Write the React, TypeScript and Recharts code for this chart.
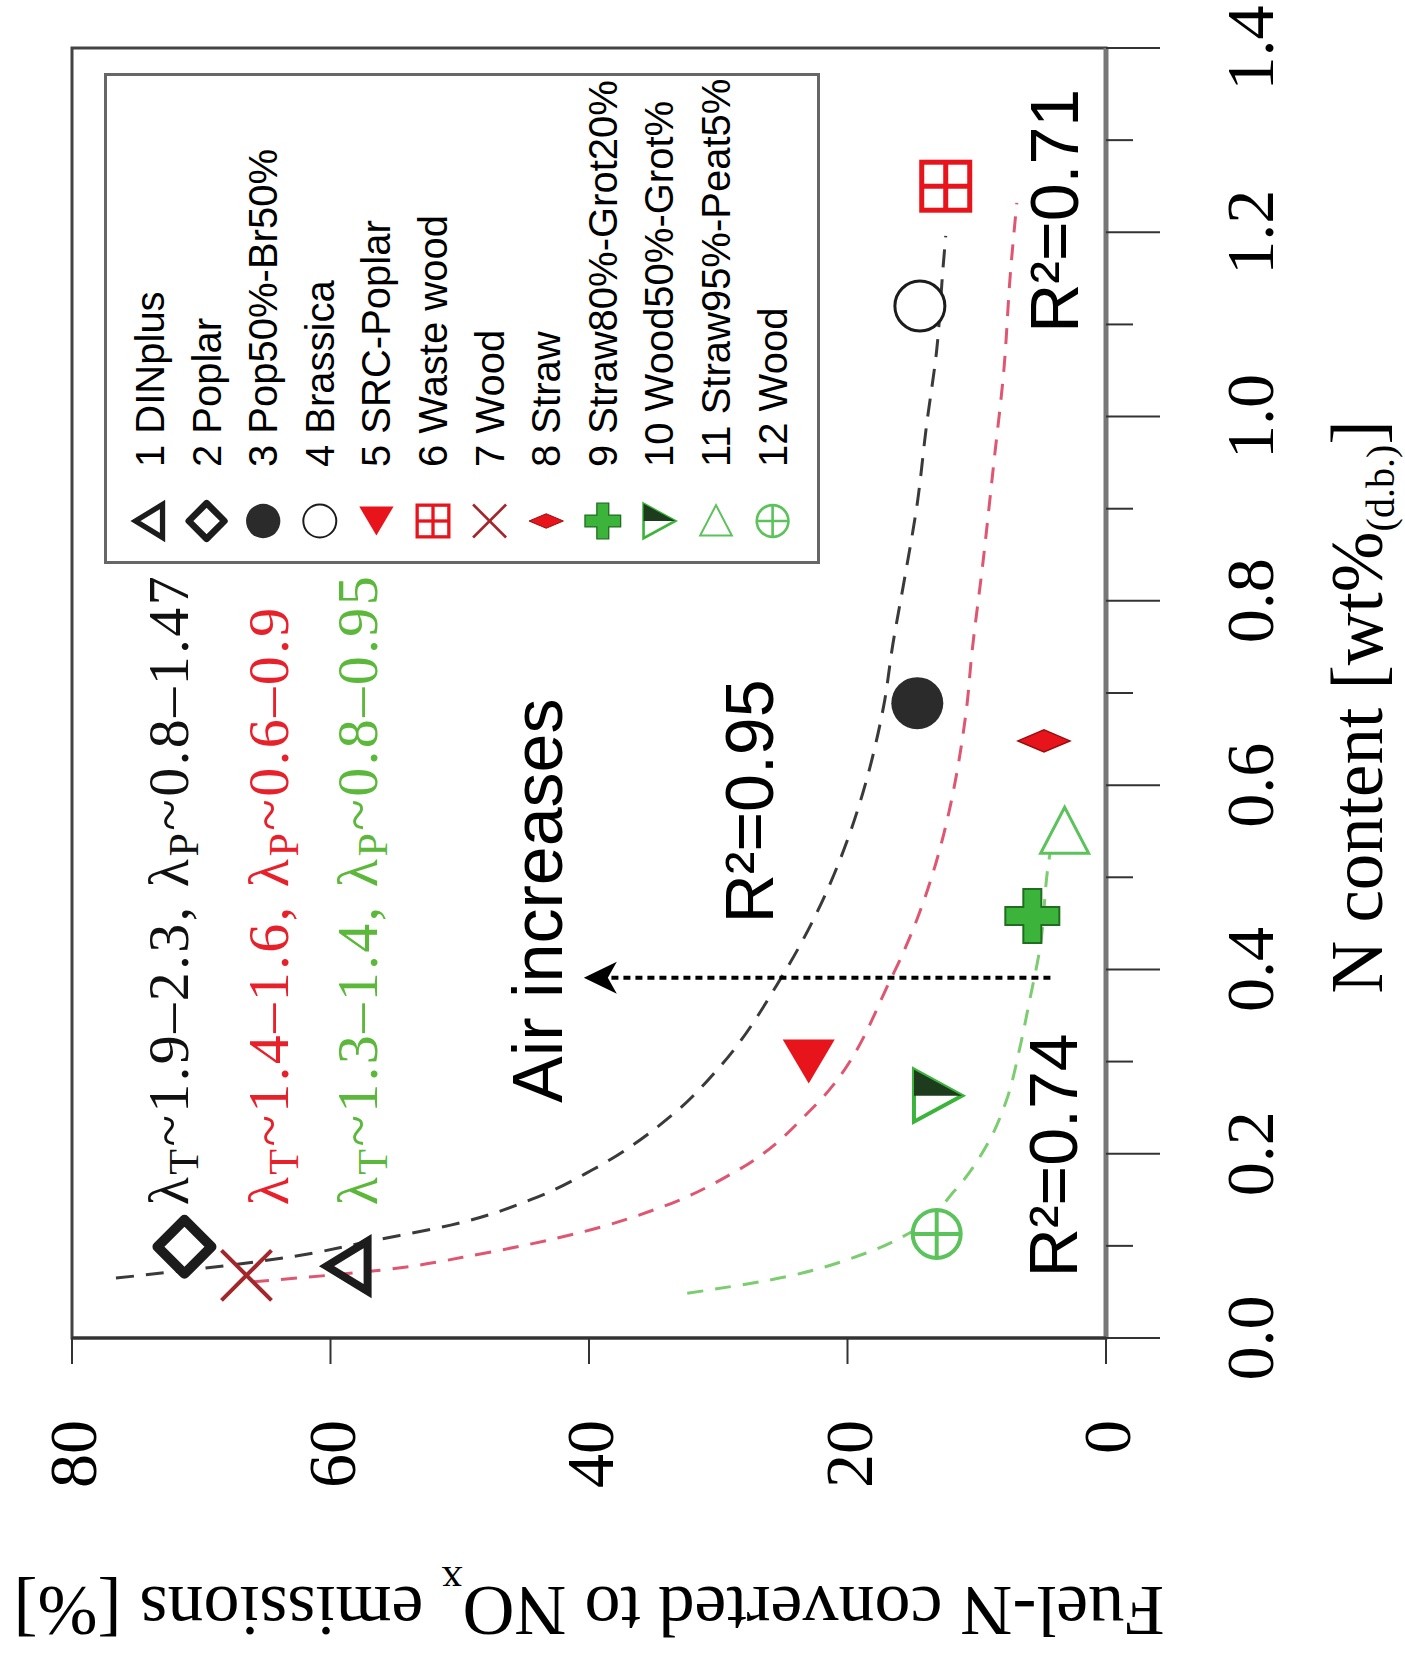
import React from "react";
import {
  ComposedChart,
  Line,
  Scatter,
  XAxis,
  YAxis,
  Legend,
  ReferenceArea,
  ReferenceDot,
  ReferenceLine,
} from "recharts";

// chart is laid out upright, then the whole block is turned a quarter turn
const W = 1655;
const H = 1405;

const SERIF = "'Liberation Serif', 'Times New Roman', serif";
const SANS = "'Liberation Sans', Arial, sans-serif";
const NARROW = "'Liberation Sans Narrow', 'Arial Narrow', 'Liberation Sans', sans-serif";

const RED = "#e8141c";
const DARK_RED = "#a3262a";
const GREEN = "#3cb43c";
const LIGHT_GREEN = "#5cc25c";
const INK = "#1c1c1c";

const SAMPLE_NAMES = [
  "1 DINplus",
  "2 Poplar",
  "3 Pop50%-Br50%",
  "4 Brassica",
  "5 SRC-Poplar",
  "6 Waste wood",
  "7 Wood",
  "8 Straw",
  "9 Straw80%-Grot20%",
  "10 Wood50%-Grot%",
  "11 Straw95%-Peat5%",
  "12 Wood",
];
const SAMPLE_SYMBOLS = [
  "openTriangle",
  "openDiamond",
  "dot",
  "ring",
  "leftTriangle",
  "boxGrid",
  "cross",
  "thinDiamond",
  "plus",
  "halfTriangle",
  "rightTriangle",
  "circlePlus",
];
// N content [wt% d.b.] and fuel-N converted to NOx [%]
const N_CONTENT = [0.078, 0.099, 0.689, 1.12, 0.3, 1.25, 0.068, 0.648, 0.458, 0.263, 0.55, 0.113];
const FUEL_N_TO_NOX = [58.6, 71.3, 14.6, 14.4, 23.0, 12.4, 66.5, 4.8, 5.7, 13.0, 3.2, 13.1];

// fitted trend curves, one per air-ratio group
const FIT_HIGH_AIR: [number, number][] = [
  [0.065, 76.6], [0.088, 63.1], [0.106, 56.6], [0.1225, 50.7], [0.153, 44.0],
  [0.182, 39.8], [0.244, 33.4], [0.294, 29.9], [0.394, 25.0], [0.686, 17.2],
  [0.752, 16.5], [0.823, 15.6], [0.906, 14.6], [0.989, 13.9], [1.072, 13.1],
  [1.163, 12.6], [1.196, 12.4],
];
const FIT_MID_AIR: [number, number][] = [
  [0.061, 66.0], [0.0737, 56.1], [0.0918, 48.2], [0.114, 40.8], [0.142, 34.4],
  [0.182, 28.5], [0.251, 22.6], [0.394, 16.5], [0.682, 10.8],
  [0.74, 10.4], [0.844, 9.5], [0.947, 8.7], [1.051, 7.9], [1.155, 7.4], [1.232, 6.9],
];
const FIT_LOW_AIR: [number, number][] = [
  [0.0485, 32.4], [0.063, 26.0], [0.092, 18.6], [0.114, 15.2], [0.16, 11.7],
  [0.215, 9.0], [0.258, 7.7], [0.316, 6.65], [0.367, 5.9], [0.424, 5.1],
  [0.51, 4.5], [0.529, 4.3],
];

const X_TICKS = [0, 0.1, 0.2, 0.3, 0.4, 0.5, 0.6, 0.7, 0.8, 0.9, 1.0, 1.1, 1.2, 1.3, 1.4];
const Y_TICKS = [0, 20, 40, 60, 80];

const LAMBDA_LINES = [
  { color: "#111", t: "1.9–2.3", p: "0.8–1.47", n: 0.144, y: 71.0 },
  { color: "#e8202a", t: "1.4–1.6", p: "0.6–0.9", n: 0.144, y: 63.3 },
  { color: "#5cb83a", t: "1.3–1.4", p: "0.8–0.95", n: 0.144, y: 56.4 },
];
const R2_NOTES = [
  { text: "R²=0.95", n: 0.45, y: 25.8 },
  { text: "R²=0.74", n: 0.066, y: 2.24 },
  { text: "R²=0.71", n: 1.091, y: 2.17 },
];

const toRows = (pts: [number, number][]) => pts.map(([n, y]) => ({ n, y }));

function Marker({ kind, cx, cy, s = 1 }: { kind: string; cx: number; cy: number; s?: number }) {
  const p = (pts: number[][]) => pts.map(([dx, dy]) => `${cx + dx * s},${cy + dy * s}`).join(" ");
  const d = (v: number) => v * s;
  switch (kind) {
    case "openTriangle":
      return <polygon points={p([[0, -22], [-25, 19], [25, 19]])} fill="none" stroke={INK} strokeWidth={d(8)} />;
    case "openDiamond":
      return (
        <polygon
          points={p([[0, -27], [27, 0], [0, 27], [-27, 0]])}
          fill="none"
          stroke={INK}
          strokeWidth={d(10)}
          strokeLinejoin="round"
        />
      );
    case "dot":
      return <circle cx={cx} cy={cy} r={d(26)} fill="#2b2b2b" />;
    case "ring":
      return <circle cx={cx} cy={cy} r={d(25)} fill="#fff" stroke={INK} strokeWidth={d(3)} />;
    case "leftTriangle":
      return <polygon points={p([[-22, 0], [22, -26], [22, 26]])} fill={RED} />;
    case "boxGrid":
      return (
        <g stroke={RED} strokeWidth={d(5)}>
          <rect x={cx - d(24)} y={cy - d(24)} width={d(48)} height={d(48)} fill="#fff" />
          <line x1={cx - d(24)} y1={cy} x2={cx + d(24)} y2={cy} />
          <line x1={cx} y1={cy - d(24)} x2={cx} y2={cy + d(24)} />
        </g>
      );
    case "cross":
      return (
        <g stroke={DARK_RED} strokeWidth={d(4)}>
          <line x1={cx - d(25)} y1={cy - d(25)} x2={cx + d(25)} y2={cy + d(25)} />
          <line x1={cx - d(25)} y1={cy + d(25)} x2={cx + d(25)} y2={cy - d(25)} />
        </g>
      );
    case "thinDiamond":
      return <polygon points={p([[0, -26], [11, 0], [0, 26], [-11, 0]])} fill={RED} stroke="#9a0d0d" strokeWidth={d(1.5)} />;
    case "plus": {
      const a = 9;
      const b = 27;
      return (
        <polygon
          points={p([[-a, -b], [a, -b], [a, -a], [b, -a], [b, a], [a, a], [a, b], [-a, b], [-a, a], [-b, a], [-b, -a], [-a, -a]])}
          fill={GREEN}
          stroke="#1f6e1f"
          strokeWidth={d(2)}
        />
      );
    }
    case "halfTriangle":
      return (
        <g>
          <polygon points={p([[-26, -24], [26, -24], [0, 24]])} fill="#fff" stroke={GREEN} strokeWidth={d(4)} />
          <polygon points={p([[0, -24], [26, -24], [0, 24]])} fill="#1d3b1d" />
        </g>
      );
    case "rightTriangle":
      return <polygon points={p([[-22, -24], [24, 0], [-22, 24]])} fill="#fff" stroke={LIGHT_GREEN} strokeWidth={d(3)} />;
    case "circlePlus":
      return (
        <g stroke={LIGHT_GREEN} strokeWidth={d(4)}>
          <circle cx={cx} cy={cy} r={d(24)} fill="#fff" />
          <line x1={cx - d(24)} y1={cy} x2={cx + d(24)} y2={cy} />
          <line x1={cx} y1={cy - d(24)} x2={cx} y2={cy + d(24)} />
        </g>
      );
    default:
      return null;
  }
}

function XTick(props: any) {
  const { x, y, payload } = props;
  const major = Math.round(payload.value * 10) % 2 === 0;
  return (
    <g>
      <line x1={x} y1={y} x2={x} y2={y + (major ? 54 : 27)} stroke="#333" strokeWidth={2} />
      {major && (
        <text x={x} y={y + 167} textAnchor="middle" fontSize={68} fontFamily={SERIF} fill="#000">
          {payload.value.toFixed(1)}
        </text>
      )}
    </g>
  );
}

function LegendBox() {
  return (
    <svg width={491} height={716} style={{ display: "block" }}>
      <rect x={1.5} y={1.5} width={488} height={713} fill="#fff" stroke="#666" strokeWidth={3} />
      {SAMPLE_NAMES.map((name, i) => {
        const cy = 46 + i * 56.6;
        return (
          <g key={name}>
            <Marker kind={SAMPLE_SYMBOLS[i]} cx={43} cy={cy} s={0.66} />
            <text x={97} y={cy + 14} fontSize={40} fontFamily={NARROW} fill="#000">
              {name}
            </text>
          </g>
        );
      })}
    </svg>
  );
}

export default function App() {
  return (
    <div style={{ position: "absolute", left: 0, top: 0, width: 1405, height: 1655, overflow: "hidden", background: "#fff" }}>
      <div
        style={{
          position: "absolute",
          left: 0,
          top: 0,
          width: W,
          height: H,
          transformOrigin: "0 0",
          transform: `translateY(${W}px) rotate(-90deg)`,
        }}
      >
        <ComposedChart width={W} height={H} margin={{ top: 72, right: 48, bottom: 0, left: 0 }}>
          <ReferenceArea x1={0} x2={1.4} y1={0} y2={80} fill="none" stroke="#444" strokeWidth={3} ifOverflow="visible" />
          <XAxis
            type="number"
            dataKey="n"
            domain={[0, 1.4]}
            ticks={X_TICKS}
            interval={0}
            height={299}
            tickSize={0}
            tickMargin={0}
            tickLine={false}
            axisLine={{ stroke: "#777", strokeWidth: 5 }}
            tick={(p: any) => <XTick {...p} />}
            allowDataOverflow
            label={{
              content: ({ viewBox }: any) => (
                <text
                  x={viewBox.x + viewBox.width / 2 - 14}
                  y={viewBox.y + 276}
                  textAnchor="middle"
                  fontSize={73}
                  fontFamily={SERIF}
                  fill="#000"
                >
                  N content [wt%
                  <tspan fontSize={40} dy={12}>(d.b.)</tspan>
                  <tspan dy={-12}>]</tspan>
                </text>
              ),
            }}
          />
          <YAxis
            type="number"
            dataKey="y"
            domain={[0, 80]}
            ticks={Y_TICKS}
            interval={0}
            width={317}
            tickSize={26}
            tickMargin={56}
            tickLine={{ stroke: "#333", strokeWidth: 2 }}
            axisLine={{ stroke: "#333", strokeWidth: 3 }}
            tick={{ fontSize: 68, fill: "#000", fontFamily: SERIF }}
            allowDataOverflow
            label={{
              content: ({ viewBox }: any) => (
                <text
                  transform={`translate(68, ${viewBox.y + viewBox.height / 2}) rotate(-90)`}
                  textAnchor="middle"
                  fontSize={72}
                  fontFamily={SERIF}
                  fill="#000"
                >
                  Fuel-N converted to NO
                  <tspan fontSize={42} dy={20}>x</tspan>
                  <tspan dy={-20}> emissions [%]</tspan>
                </text>
              ),
            }}
          />

          <Line data={toRows(FIT_HIGH_AIR)} dataKey="y" type="monotone" stroke="#3a3a3a" strokeWidth={3}
            strokeDasharray="18 12" dot={false} activeDot={false} isAnimationActive={false} legendType="none" />
          <Line data={toRows(FIT_MID_AIR)} dataKey="y" type="monotone" stroke="#df5670" strokeWidth={3}
            strokeDasharray="16 12" dot={false} activeDot={false} isAnimationActive={false} legendType="none" />
          <Line data={toRows(FIT_LOW_AIR)} dataKey="y" type="monotone" stroke="#7ccc70" strokeWidth={3}
            strokeDasharray="16 12" dot={false} activeDot={false} isAnimationActive={false} legendType="none" />

          {/* air-increase arrow */}
          <ReferenceLine
            segment={[{ x: 0.391, y: 4.3 }, { x: 0.391, y: 38.5 }]}
            stroke="#000"
            strokeWidth={4}
            strokeDasharray="7 5"
          />
          <ReferenceDot
            x={0.391}
            y={40.4}
            r={0}
            shape={(p: any) => (
              <path
                d={`M${p.cx},${p.cy} L${p.cx - 16},${p.cy + 33} L${p.cx},${p.cy + 24} L${p.cx + 16},${p.cy + 33} Z`}
                fill="#000"
              />
            )}
          />
          <ReferenceDot
            x={0.255}
            y={42.1}
            r={0}
            shape={(p: any) => (
              <text x={p.cx} y={p.cy} fontSize={70} fontFamily={SANS} fill="#000">Air increases</text>
            )}
          />
          {R2_NOTES.map((r) => (
            <ReferenceDot
              key={r.text}
              x={r.n}
              y={r.y}
              r={0}
              shape={(p: any) => (
                <text x={p.cx} y={p.cy} fontSize={68} fontFamily={SANS} fill="#000">{r.text}</text>
              )}
            />
          ))}
          {LAMBDA_LINES.map((l) => (
            <ReferenceDot
              key={l.t + l.p}
              x={l.n}
              y={l.y}
              r={0}
              shape={(p: any) => (
                <text x={p.cx} y={p.cy} fontSize={58} letterSpacing={2.5} fontFamily={SERIF} fill={l.color}>
                  λ<tspan fontSize={42} dy={10}>T</tspan>
                  <tspan dy={-10}>~{l.t}, λ</tspan>
                  <tspan fontSize={42} dy={10}>P</tspan>
                  <tspan dy={-10}>~{l.p}</tspan>
                </text>
              )}
            />
          ))}

          {SAMPLE_NAMES.map((name, i) => (
            <Scatter
              key={name}
              name={name}
              data={[{ n: N_CONTENT[i], y: FUEL_N_TO_NOX[i] }]}
              dataKey="y"
              isAnimationActive={false}
              shape={(p: any) => <Marker kind={SAMPLE_SYMBOLS[i]} cx={p.cx} cy={p.cy} />}
            />
          ))}

          <Legend
            layout="horizontal"
            verticalAlign="middle"
            align="center"
            content={() => <LegendBox />}
            wrapperStyle={{ left: 1091, top: 104, width: 491, height: 716 }}
          />
        </ComposedChart>
      </div>
    </div>
  );
}
